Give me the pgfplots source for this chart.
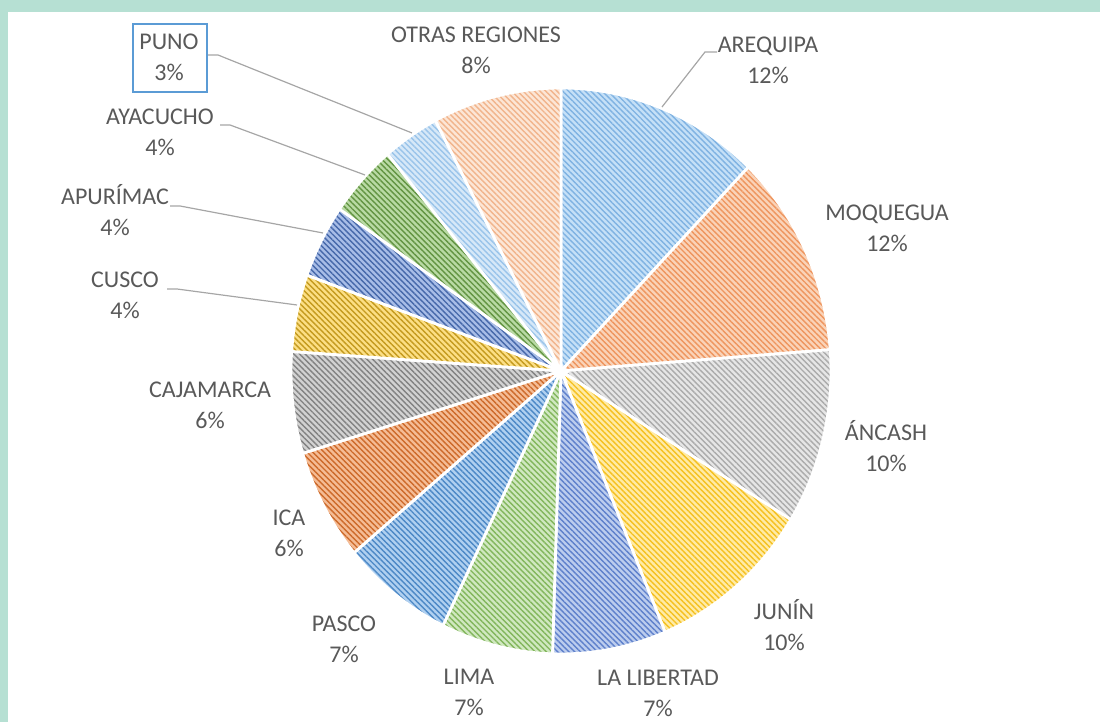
\documentclass[border=0pt]{standalone}
\usepackage{fontspec}
\setmainfont{Carlito}
\usepackage{pgfplots}
\usepackage{pgfplotstable}
\pgfplotsset{compat=1.18}
\usetikzlibrary{patterns.meta}

\definecolor{frame}{HTML}{B6E0D3}
\definecolor{txt}{HTML}{595959}
\definecolor{lead}{HTML}{A6A6A6}
\definecolor{punobox}{HTML}{5B9BD5}
% base colour (c) and stripe colour (d) of each slice
\definecolor{c0}{HTML}{C5E0F7}\definecolor{d0}{HTML}{7FB2E2}
\definecolor{c1}{HTML}{FAD3B8}\definecolor{d1}{HTML}{EE955E}
\definecolor{c2}{HTML}{E6E6E6}\definecolor{d2}{HTML}{ABABAB}
\definecolor{c3}{HTML}{FFEBA6}\definecolor{d3}{HTML}{F5C020}
\definecolor{c4}{HTML}{BCCDEE}\definecolor{d4}{HTML}{5E80CB}
\definecolor{c5}{HTML}{D0E8C0}\definecolor{d5}{HTML}{82B65C}
\definecolor{c6}{HTML}{B0D0F0}\definecolor{d6}{HTML}{4C88C6}
\definecolor{c7}{HTML}{F5BC95}\definecolor{d7}{HTML}{CD6A2A}
\definecolor{c8}{HTML}{D2D2D2}\definecolor{d8}{HTML}{828282}
\definecolor{c9}{HTML}{FCDF85}\definecolor{d9}{HTML}{C49A1E}
\definecolor{c10}{HTML}{A8BDE7}\definecolor{d10}{HTML}{4668AA}
\definecolor{c11}{HTML}{B9DAA4}\definecolor{d11}{HTML}{629442}
\definecolor{c12}{HTML}{D6E8F8}\definecolor{d12}{HTML}{9AC4EA}
\definecolor{c13}{HTML}{FCE6D6}\definecolor{d13}{HTML}{F1B48C}

% share (%) and label position (px, first line) of each region, clockwise from 12 o'clock
\pgfplotstableread[col sep=comma]{
name,value,lx,ly
AREQUIPA,12.2,768,45
MOQUEGUA,11.6,887,213
ÁNCASH,10.0,886,433
JUNÍN,9.9,784,612
LA LIBERTAD,6.8,658,678
LIMA,6.7,469,677
PASCO,6.7,344,624
ICA,6.4,289,518
CAJAMARCA,5.8,210,390
CUSCO,4.4,125,280
APURÍMAC,4.2,115,197
AYACUCHO,4.2,160,117
PUNO,3.4,169,42
OTRAS REGIONES,7.7,476,35
}\regiondata

\tikzset{lbl/.style={font=\fontsize{12}{14}\selectfont, text=txt, inner sep=0pt}}

\begin{document}
\begin{tikzpicture}
\begin{axis}[
    width=550pt, height=361pt, scale only axis,
    xmin=0, xmax=1100, ymin=0, ymax=722,
    hide axis, clip=false,
]
\fill[frame] (axis cs:0,710) rectangle (axis cs:1100,722);
\fill[frame] (axis cs:0,0) rectangle (axis cs:8,722);

\gdef\sa{90}
\pgfplotsinvokeforeach{0,...,13}{
  \pgfplotstablegetelem{#1}{value}\of\regiondata \let\v\pgfplotsretval
  \pgfplotstablegetelem{#1}{name}\of\regiondata \let\nm\pgfplotsretval
  \pgfplotstablegetelem{#1}{lx}\of\regiondata \let\lx\pgfplotsretval
  \pgfplotstablegetelem{#1}{ly}\of\regiondata \let\ly\pgfplotsretval
  \pgfmathsetmacro\ea{\sa-3.6*\v}
  \pgfmathtruncatemacro\pc{round(\v)}
  \pgfmathsetmacro\yA{714-\ly}
  \pgfmathsetmacro\yB{683-\ly}
  \edef\tmp{
    \noexpand\path[preaction={fill=c#1},
      pattern={Lines[angle=-45,distance=2pt,line width=0.7pt]}, pattern color=d#1,
      draw=white, line width=1.4pt]
      (axis cs:561,351) -- ++(\sa:135pt and 141.5pt)
      arc[start angle=\sa, end angle=\ea, x radius=135pt, y radius=141.5pt] -- cycle;
    \noexpand\node[lbl, anchor=base] at (axis cs:\lx,\yA) {\nm};
    \noexpand\node[lbl, anchor=base] at (axis cs:\lx,\yB) {\pc\noexpand\%};
  }
  \tmp
  \xdef\sa{\ea}
}

% leader lines
\draw[lead, line width=0.6pt] (axis cs:717,670) -- (axis cs:705,670) -- (axis cs:662,615);
\draw[lead, line width=0.6pt] (axis cs:207,667) -- (axis cs:218,667) -- (axis cs:412,589);
\draw[lead, line width=0.6pt] (axis cs:220,597) -- (axis cs:230,597) -- (axis cs:365,547);
\draw[lead, line width=0.6pt] (axis cs:170,516) -- (axis cs:180,516) -- (axis cs:323,489);
\draw[lead, line width=0.6pt] (axis cs:167,433) -- (axis cs:177,433) -- (axis cs:297,417);
\draw[punobox, line width=0.8pt] (axis cs:133,698) rectangle (axis cs:207,630);
\end{axis}
\pgfresetboundingbox
\useasboundingbox (0,0) rectangle (550pt,361pt);
\end{tikzpicture}
\end{document}
